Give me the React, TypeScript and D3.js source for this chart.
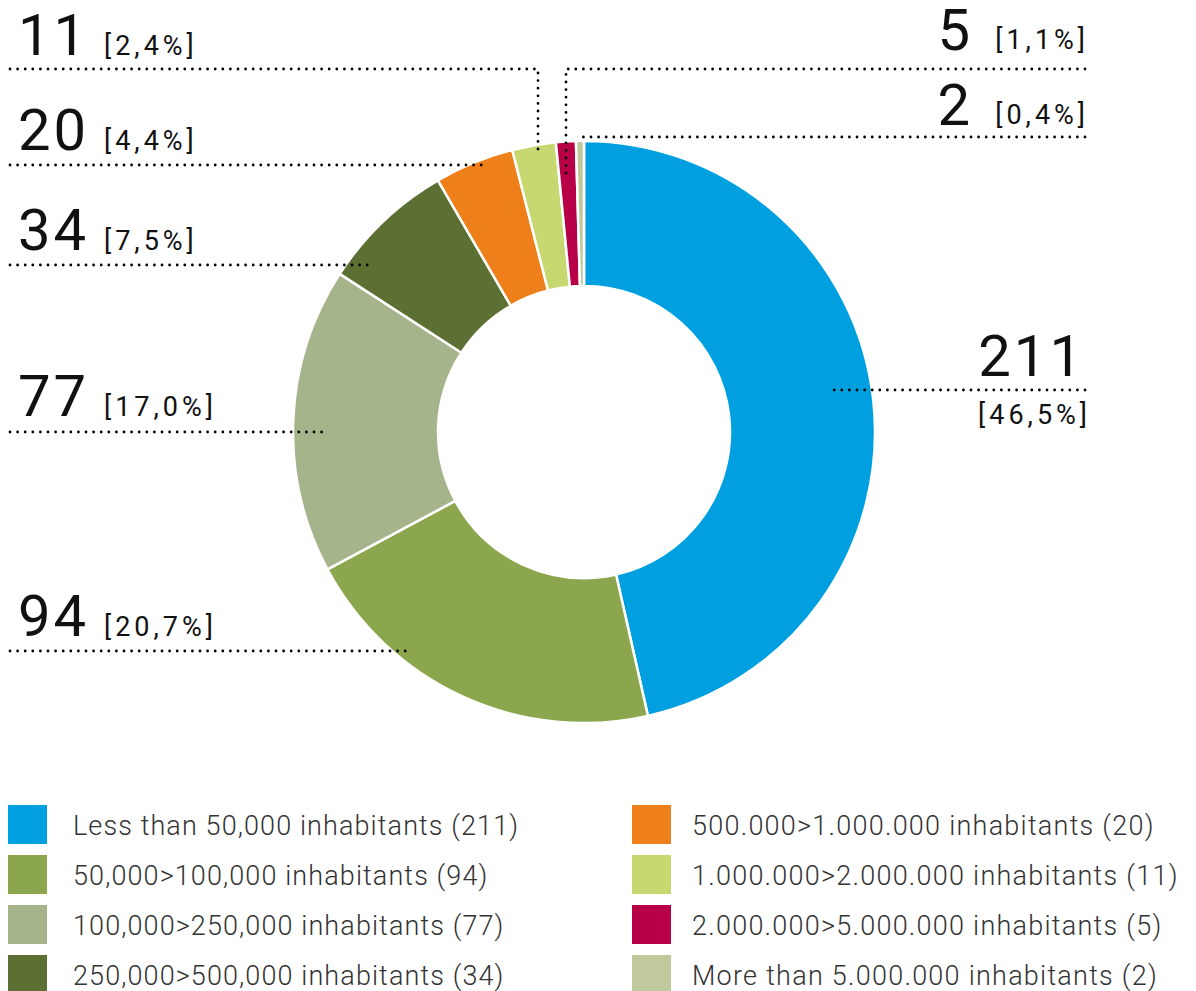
import { useEffect, useRef } from 'react';
import * as d3 from 'd3';

// slice data, clockwise from 12 o'clock
const categories = [
  'Less than 50,000 inhabitants',
  '50,000>100,000 inhabitants',
  '100,000>250,000 inhabitants',
  '250,000>500,000 inhabitants',
  '500.000>1.000.000 inhabitants',
  '1.000.000>2.000.000 inhabitants',
  '2.000.000>5.000.000 inhabitants',
  'More than 5.000.000 inhabitants',
];
const counts = [211, 94, 77, 34, 20, 11, 5, 2];
const percentLabels = ['46,5%', '20,7%', '17,0%', '7,5%', '4,4%', '2,4%', '1,1%', '0,4%'];
const colors = ['#009FE0', '#8BA64C', '#A5B48A', '#5D7033', '#EE7F1A', '#C8D870', '#B80047', '#BFC99B'];

// callout layout: text anchor + dotted leader path (px)
const callouts = [
  { align: 'end', nx: 1085, ny: 376, px: 1091, py: 424, path: [[1085, 390], [833, 390]] },
  { align: 'start', nx: 18, ny: 636, px: 104, py: 636, path: [[10, 651], [410, 651]] },
  { align: 'start', nx: 18, ny: 416, px: 104, py: 416, path: [[10, 432], [326, 432]] },
  { align: 'start', nx: 18, ny: 250, px: 104, py: 250, path: [[10, 265], [372, 265]] },
  { align: 'start', nx: 18, ny: 150, px: 104, py: 150, path: [[10, 165], [484, 165]] },
  { align: 'start', nx: 18, ny: 55, px: 104, py: 55, path: [[10, 69], [538, 69], [538, 152]] },
  { align: 'end', nx: 973, ny: 50, px: 1089, py: 49, path: [[1085, 69], [566, 69], [566, 176]] },
  { align: 'end', nx: 973, ny: 125, px: 1089, py: 124, path: [[1085, 137], [578, 137]] },
];

const W = 1196;
const H = 991;
const FONT = 'Roboto, "DejaVu Sans", sans-serif';

export default function App() {
  const svgRef = useRef<SVGSVGElement>(null);

  useEffect(() => {
    const svg = d3.select(svgRef.current);
    svg.selectAll('*').remove();

    const cx = 584;
    const cy = 432;
    const outerR = 291;
    const innerR = 146;

    const pie = d3.pie<number>().sort(null).value(d => d);
    const arc = d3.arc<d3.PieArcDatum<number>>().innerRadius(innerR).outerRadius(outerR);

    const g = svg.append('g').attr('transform', `translate(${cx},${cy})`);
    g.selectAll('path.slice')
      .data(pie(counts))
      .enter().append('path')
      .attr('class', 'slice')
      .attr('d', arc)
      .attr('fill', (d, i) => colors[i])
      .attr('stroke', '#fff')
      .attr('stroke-width', 2.5)
      .attr('stroke-linejoin', 'round');

    // dotted leaders
    const line = d3.line();
    svg.selectAll('path.leader')
      .data(callouts)
      .enter().append('path')
      .attr('class', 'leader')
      .attr('d', d => line(d.path as [number, number][]))
      .attr('fill', 'none')
      .attr('stroke', '#000')
      .attr('stroke-width', 2.8)
      .attr('stroke-linecap', 'round')
      .attr('stroke-dasharray', '0,7.6');

    // callout text
    callouts.forEach((c, i) => {
      const anchor = c.align === 'end' ? 'end' : 'start';
      svg.append('text')
        .attr('x', c.nx).attr('y', c.ny)
        .attr('text-anchor', anchor)
        .style('font-family', FONT).style('font-size', '58px')
        .style('letter-spacing', '3px')
        .style('fill', '#111')
        .text(counts[i]);
      svg.append('text')
        .attr('x', c.px).attr('y', c.py)
        .attr('text-anchor', anchor)
        .style('font-family', FONT).style('font-size', '27px')
        .style('letter-spacing', '4px')
        .style('fill', '#111')
        .text(`[${percentLabels[i]}]`);
    });

    // legend, two columns of four
    const legend = svg.append('g');
    const items = legend.selectAll('g.item')
      .data(categories)
      .enter().append('g')
      .attr('class', 'item')
      .attr('transform', (d, i) => `translate(${i < 4 ? 8 : 632},${805 + (i % 4) * 50})`);

    items.append('rect')
      .attr('width', 39).attr('height', 39)
      .attr('fill', (d, i) => colors[i]);

    items.append('text')
      .attr('x', (d, i) => (i < 4 ? 65 : 60)).attr('y', 30)
      .style('font-family', FONT).style('font-size', '27px')
      .style('font-weight', 300)
      .style('letter-spacing', (d, i) => (i < 4 ? '1.1px' : '1.25px'))
      .style('fill', '#333')
      .text((d, i) => `${d} (${counts[i]})`);
  }, []);

  return (
    <svg
      ref={svgRef}
      width={W}
      height={H}
      style={{ position: 'absolute', left: 0, top: 0, background: '#fff' }}
    />
  );
}
